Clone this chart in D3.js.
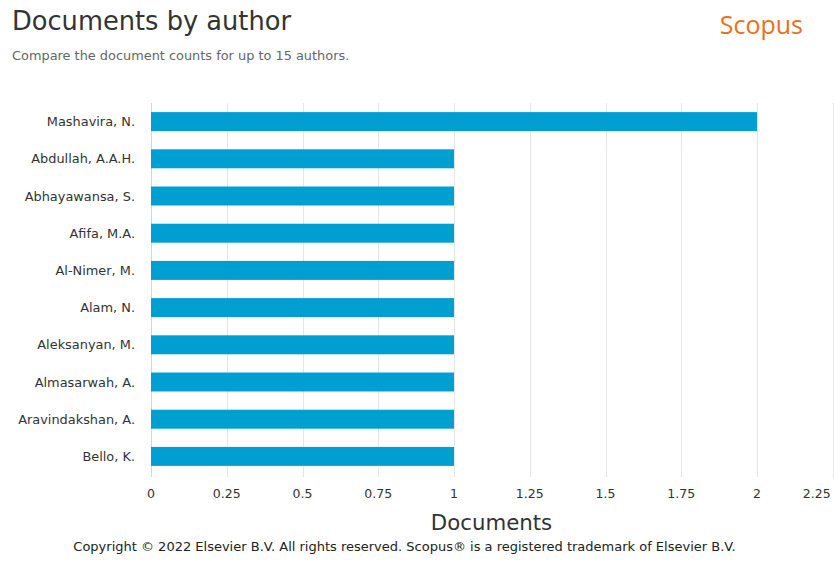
<!DOCTYPE html>
<html><head><meta charset="utf-8">
<script src="https://cdn.jsdelivr.net/npm/d3@7"></script>
<style>body{margin:0;background:#fff;}svg{display:block;}</style>
</head><body>
<svg id="c" width="834" height="561"></svg>
<script>
const authors = ["Mashavira, N.","Abdullah, A.A.H.","Abhayawansa, S.","Afifa, M.A.","Al-Nimer, M.","Alam, N.","Aleksanyan, M.","Almasarwah, A.","Aravindakshan, A.","Bello, K."];
const documents = [2,1,1,1,1,1,1,1,1,1];
const tickValues = [0,0.25,0.5,0.75,1,1.25,1.5,1.75,2,2.25];

const svg = d3.select("#c");
const x = d3.scaleLinear().domain([0,2.25]).range([151,832.75]);
const y = d3.scaleBand().domain(authors).range([103,475]).paddingInner(0.49).paddingOuter(0.245);

// grid
svg.append("g").selectAll("line").data(tickValues).join("line")
  .attr("x1",d=>Math.round(x(d))+0.5).attr("x2",d=>Math.round(x(d))+0.5).attr("y1",103).attr("y2",477)
  .attr("stroke",d=>d===0?"#ccd6eb":"#e6e6e6").attr("stroke-width",1);

// bars
svg.append("g").selectAll("rect").data(authors).join("rect")
  .attr("x",x(0)).attr("y",d=>y(d))
  .attr("width",(d,i)=>x(documents[i])-x(0)).attr("height",y.bandwidth())
  .attr("fill","#009fd1");

// y labels
svg.append("g").selectAll("text").data(authors).join("text")
  .attr("x",135).attr("y",d=>y(d)+y.bandwidth()/2).attr("dy","0.35em")
  .attr("text-anchor","end").attr("font-family","DejaVu Sans").attr("font-size",12.9)
  .attr("fill","#333").text(d=>d);

// x tick labels
svg.append("g").selectAll("text").data(tickValues).join("text")
  .attr("x",d=>Math.min(x(d), 816.7)).attr("y",498).attr("text-anchor","middle")
  .attr("font-family","DejaVu Sans").attr("font-size",12.5).attr("fill","#333")
  .text(d=>d3.format("")(d));

// axis title
svg.append("text").attr("x",491.5).attr("y",530).attr("text-anchor","middle")
  .attr("font-family","DejaVu Sans").attr("font-size",21.3).attr("fill","#333").text("Documents");

// title
svg.append("text").attr("x",12).attr("y",30).attr("font-family","DejaVu Sans").attr("font-size",25.7)
  .attr("fill","#333").text("Documents by author");
svg.append("text").attr("x",12).attr("y",60).attr("font-family","DejaVu Sans").attr("font-size",12.9)
  .attr("fill","#666").text("Compare the document counts for up to 15 authors.");
svg.append("text").attr("x",803).attr("y",34).attr("text-anchor","end").attr("font-family","Open Sans")
  .attr("font-size",25).attr("fill","#e9711c").text("Scopus");

// footer
svg.append("text").attr("x",404.5).attr("y",551).attr("text-anchor","middle").attr("font-family","DejaVu Sans")
  .attr("font-size",13).attr("fill","#222").text("Copyright © 2022 Elsevier B.V. All rights reserved. Scopus® is a registered trademark of Elsevier B.V.");
</script>
</body></html>
